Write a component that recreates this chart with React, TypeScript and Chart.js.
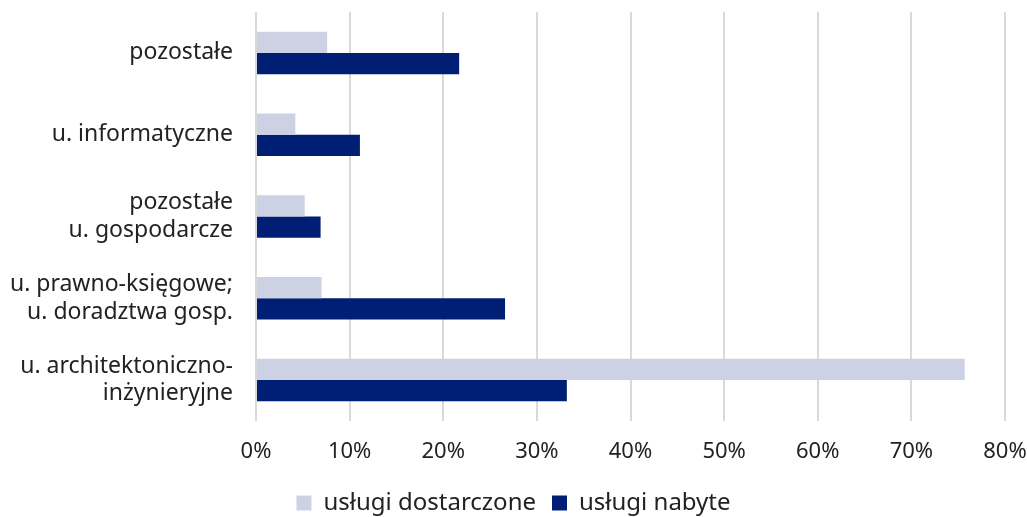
import React, { useEffect, useRef } from "react";
import { Chart, registerables } from "chart.js";

Chart.register(...registerables);

const categories: string[][] = [
  ["pozostałe"],
  ["u. informatyczne"],
  ["pozostałe", "u. gospodarcze"],
  ["u. prawno-księgowe;", "u. doradztwa gosp."],
  ["u. architektoniczno-", "inżynieryjne"],
];
const delivered: number[] = [7.6, 4.2, 5.2, 7.0, 75.7];
const acquired: number[] = [21.7, 11.1, 6.9, 26.6, 33.2];
const seriesNames: string[] = ["usługi dostarczone", "usługi nabyte"];
const xMin = 0;
const xMax = 80;
const xStep = 10;

const FONT = "'Noto Sans', 'Open Sans', sans-serif";

export default function App() {
  const ref = useRef<HTMLCanvasElement | null>(null);
  useEffect(() => {
    document.body.style.margin = "0";
    if (!ref.current) return;
    const chart = new Chart(ref.current, {
      type: "bar",
      data: {
        labels: categories,
        datasets: [
          {
            label: seriesNames[0],
            data: delivered,
            backgroundColor: "#CCD2E3",
            categoryPercentage: 0.52,
            barPercentage: 1,
          },
          {
            label: seriesNames[1],
            data: acquired,
            backgroundColor: "#001E73",
            categoryPercentage: 0.52,
            barPercentage: 1,
          },
        ],
      },
      options: {
        indexAxis: "y",
        animation: false,
        responsive: false,
        maintainAspectRatio: false,
        layout: { padding: { top: 12, right: 2, left: 2, bottom: -8 } },
        plugins: {
          tooltip: { enabled: false },
          legend: {
            position: "bottom",
            labels: {
              font: { family: FONT, size: 24 },
              color: "#222",
              boxWidth: 15,
              boxHeight: 15,
              padding: 16,
            },
          },
        },
        scales: {
          x: {
            min: xMin,
            max: xMax,
            afterFit: (scale: any) => {
              scale.paddingRight = 22;
              scale.height = 54;
            },
            ticks: {
              stepSize: xStep,
              callback: (v: any) => `${v}%`,
              font: { family: FONT, size: 22 },
              color: "#222",
              padding: 18,
            },
            grid: { color: "#D9D9D9", lineWidth: 2, drawTicks: false },
            border: { display: false },
          },
          y: {
            afterFit: (scale: any) => {
              scale.paddingTop = 0;
              scale.paddingBottom = 0;
              scale.width = 254;
            },
            ticks: {
              font: { family: FONT, size: 23 },
              color: "#222",
              padding: 23,
            },
            grid: { display: false, drawTicks: false },
            border: { display: false },
          },
        },
      },
    });
    return () => chart.destroy();
  }, []);
  return <canvas ref={ref} width={1027} height={517} style={{ display: "block" }} />;
}
